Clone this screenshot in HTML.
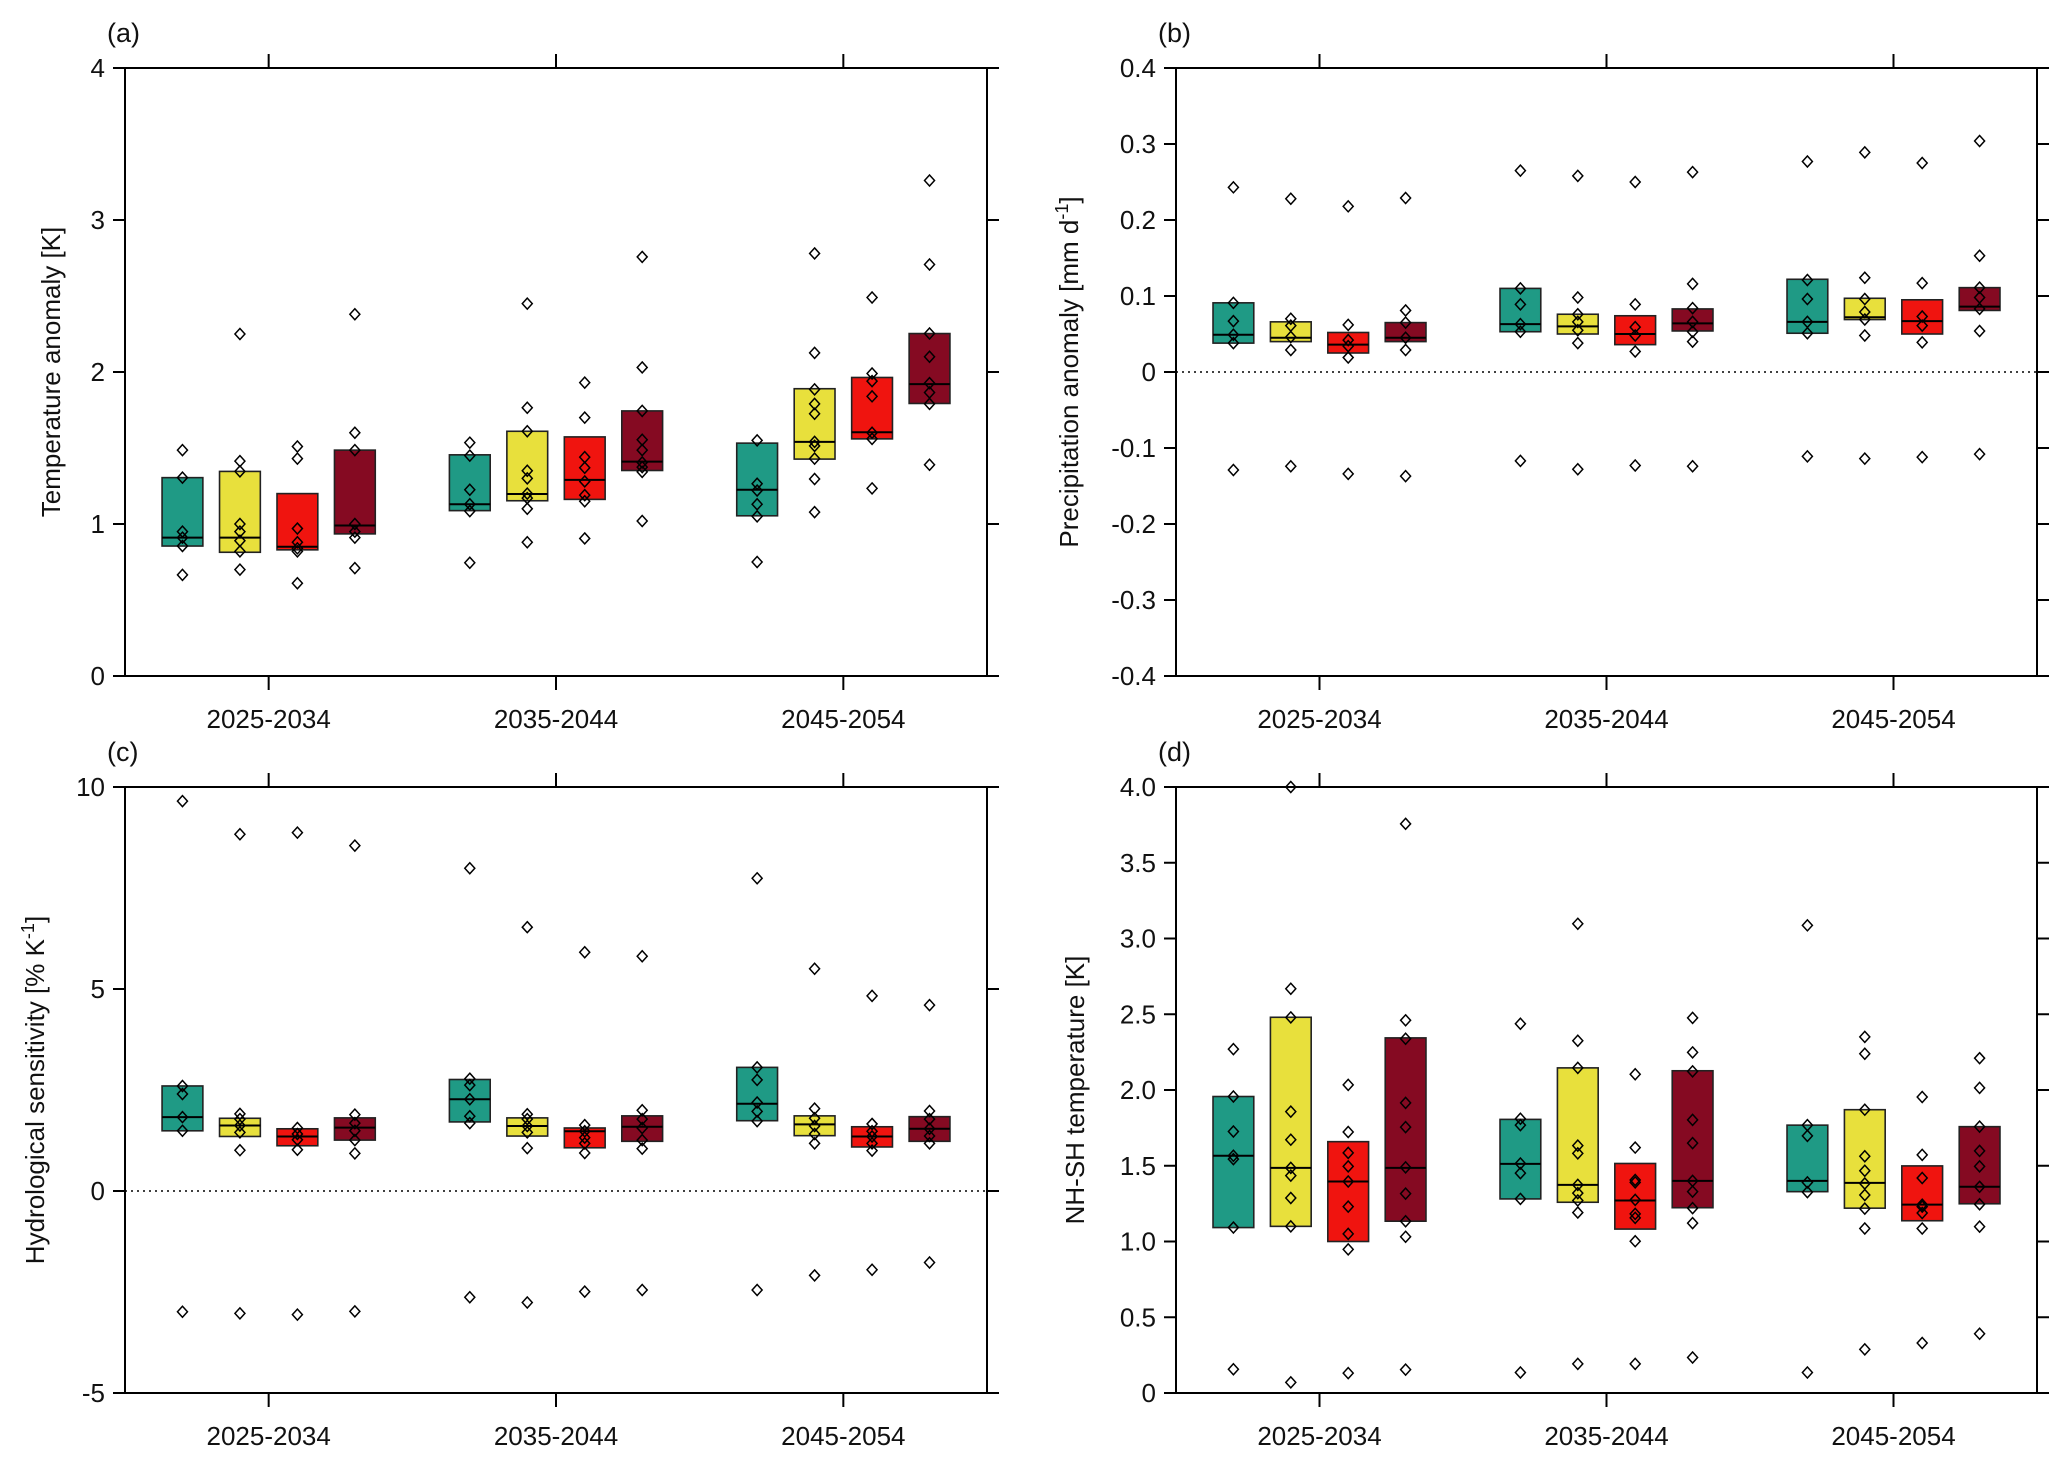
<!DOCTYPE html>
<html><head><meta charset="utf-8"><style>
html,body{margin:0;padding:0;background:#fff;}
svg{display:block;font-family:"Liberation Sans",Arial,sans-serif;}
</style></head><body>
<svg id="fig" width="2067" height="1462" viewBox="0 0 2067 1462" xmlns="http://www.w3.org/2000/svg"></svg>
<script>
const categories = ["2025-2034","2035-2044","2045-2054"];
const seriesColors = ["#1f9a85","#e8e03c","#f0140f","#850a22"];

// Panel (a) Temperature anomaly
const aLow  = [0.855,0.814,0.83,0.935, 1.088,1.153,1.162,1.352, 1.054,1.427,1.56,1.793];
const aHigh = [1.305,1.346,1.2,1.486, 1.455,1.61,1.573,1.744, 1.532,1.89,1.964,2.253];
const aMed  = [0.91,0.91,0.85,0.99, 1.13,1.197,1.29,1.41, 1.225,1.54,1.604,1.92];
const aPts  = [
 [1.486,1.305,0.95,0.91,0.855,0.665],
 [2.25,1.414,1.346,1.0,0.95,0.89,0.82,0.70],
 [1.51,1.43,0.97,0.88,0.84,0.82,0.61],
 [2.38,1.60,1.486,1.0,0.95,0.91,0.71],
 [1.535,1.45,1.225,1.13,1.085,0.745],
 [2.45,1.765,1.61,1.35,1.30,1.20,1.17,1.10,0.88],
 [1.93,1.70,1.44,1.37,1.28,1.19,1.15,0.905],
 [2.757,2.03,1.744,1.554,1.486,1.405,1.374,1.343,1.02],
 [1.55,1.265,1.22,1.13,1.05,0.75],
 [2.78,2.126,1.886,1.79,1.725,1.54,1.514,1.43,1.296,1.078],
 [2.49,1.99,1.94,1.84,1.60,1.56,1.234],
 [3.26,2.707,2.253,2.10,1.927,1.865,1.79,1.39]
];
const aTicks = [0,1,2,3,4];
const aTickLabels = ["0","1","2","3","4"];

// Panel (b) Precipitation anomaly
const bLow  = [0.038,0.040,0.025,0.040, 0.053,0.050,0.036,0.054, 0.051,0.069,0.050,0.081];
const bHigh = [0.091,0.066,0.052,0.065, 0.110,0.076,0.074,0.083, 0.122,0.097,0.095,0.111];
const bMed  = [0.049,0.045,0.036,0.045, 0.063,0.060,0.050,0.064, 0.066,0.072,0.067,0.086];
const bPts  = [
 [0.243,0.091,0.067,0.049,0.038,-0.129],
 [0.228,0.07,0.061,0.046,0.029,-0.124],
 [0.218,0.062,0.042,0.034,0.019,-0.134],
 [0.229,0.081,0.065,0.045,0.029,-0.137],
 [0.265,0.11,0.089,0.063,0.053,-0.117],
 [0.258,0.098,0.076,0.066,0.055,0.038,-0.128],
 [0.25,0.089,0.059,0.048,0.027,-0.123],
 [0.263,0.116,0.084,0.066,0.053,0.040,-0.124],
 [0.277,0.121,0.096,0.066,0.051,-0.111],
 [0.289,0.124,0.096,0.079,0.069,0.048,-0.114],
 [0.275,0.117,0.073,0.061,0.039,-0.112],
 [0.304,0.153,0.111,0.098,0.083,0.054,-0.108]
];
const bTicks = [-0.4,-0.3,-0.2,-0.1,0,0.1,0.2,0.3,0.4];
const bTickLabels = ["-0.4","-0.3","-0.2","-0.1","0","0.1","0.2","0.3","0.4"];

// Panel (c) Hydrological sensitivity
const cLow  = [1.49,1.35,1.12,1.26, 1.71,1.36,1.07,1.23, 1.74,1.37,1.09,1.23];
const cHigh = [2.6,1.80,1.54,1.81, 2.76,1.81,1.56,1.86, 3.06,1.86,1.59,1.84];
const cMed  = [1.83,1.62,1.35,1.57, 2.27,1.61,1.48,1.59, 2.16,1.65,1.35,1.54];
const cPts  = [
 [9.65,2.6,2.4,1.83,1.49,-2.99],
 [8.83,1.91,1.78,1.62,1.45,1.01,-3.03],
 [8.87,1.56,1.41,1.27,1.02,-3.06],
 [8.55,1.89,1.68,1.49,1.26,0.93,-2.98],
 [7.99,2.78,2.62,2.27,1.85,1.68,-2.63],
 [6.53,1.90,1.78,1.61,1.45,1.06,-2.76],
 [5.91,1.63,1.48,1.32,1.18,0.94,-2.49],
 [5.81,2.0,1.78,1.56,1.26,1.05,-2.45],
 [7.74,3.06,2.75,2.19,1.97,1.73,-2.45],
 [5.50,2.04,1.80,1.61,1.41,1.18,-2.09],
 [4.83,1.66,1.48,1.35,1.18,1.0,-1.95],
 [4.60,1.98,1.78,1.54,1.36,1.18,-1.77]
];
const cTicks = [-5,0,5,10];
const cTickLabels = ["-5","0","5","10"];

// Panel (d) NH-SH temperature
const dLow  = [1.092,1.10,1.0,1.134, 1.281,1.259,1.082,1.223, 1.329,1.22,1.137,1.249];
const dHigh = [1.957,2.48,1.659,2.344, 1.806,2.146,1.515,2.127, 1.768,1.87,1.499,1.758];
const dMed  = [1.566,1.486,1.396,1.486, 1.512,1.374,1.271,1.40, 1.40,1.387,1.243,1.361];
const dPts  = [
 [2.27,1.957,1.726,1.566,1.544,1.092,0.157],
 [4.0,2.668,2.479,1.857,1.672,1.486,1.435,1.287,1.10,0.07],
 [2.034,1.723,1.585,1.496,1.396,1.23,1.05,0.948,0.131],
 [3.757,2.46,2.338,1.915,1.755,1.489,1.316,1.134,1.031,0.154],
 [2.437,1.81,1.768,1.515,1.451,1.281,0.135],
 [3.097,2.325,2.146,1.633,1.582,1.374,1.319,1.271,1.191,0.192],
 [2.104,1.62,1.406,1.39,1.275,1.182,1.156,1.002,0.192],
 [2.476,2.248,2.123,1.803,1.649,1.40,1.329,1.22,1.121,0.234],
 [3.087,1.768,1.697,1.39,1.326,0.135],
 [2.351,2.239,1.87,1.563,1.467,1.383,1.307,1.217,1.086,0.288],
 [1.954,1.572,1.419,1.243,1.23,1.188,1.086,0.33],
 [2.21,2.014,1.758,1.598,1.496,1.361,1.246,1.098,0.391]
];
const dTicks = [0,0.5,1,1.5,2,2.5,3,3.5,4];
const dTickLabels = ["0","0.5","1.0","1.5","2.0","2.5","3.0","3.5","4.0"];

const NS = "http://www.w3.org/2000/svg";
const svg = document.getElementById("fig");
function mk(tag, attrs, parent){
  const e = document.createElementNS(NS, tag);
  for (const k in attrs) e.setAttribute(k, attrs[k]);
  (parent||svg).appendChild(e);
  return e;
}

function panel(opt){
  const g = mk("g", {});
  
  
  const L = opt.x, R = opt.x + opt.w, T = opt.y, B = opt.y + opt.h;
  const xs = v => L + v / 15 * opt.w;
  const ys = v => B - (v - opt.min) / (opt.max - opt.min) * opt.h;
  if (opt.zero) {
    const z = mk("line", {x1:L, x2:R, y1:ys(0), y2:ys(0), stroke:"#000","stroke-width":1.6,"stroke-dasharray":"2,4"}, g);
    
    
  }
  for (let i = 0; i < 12; i++) {
    const grp = Math.floor(i / 4), s = i % 4;
    const cx = xs(grp * 5 + 1 + s);
    const bw = 0.71 * opt.w / 15;
    const r = mk("rect", {x:cx - bw/2, y:ys(opt.high[i]), width:bw, height:ys(opt.low[i]) - ys(opt.high[i]), fill:seriesColors[s], stroke:"#222","stroke-width":1.6}, g);
    
    
    const m = mk("line", {x1:cx - bw/2, x2:cx + bw/2, y1:ys(opt.med[i]), y2:ys(opt.med[i]), stroke:"#000","stroke-width":2}, g);
    
    
    opt.pts[i].forEach(v => {
      const py = ys(v);
      const p = mk("polygon", {points:`${cx},${py-5.5} ${cx+5},${py} ${cx},${py+5.5} ${cx-5},${py}`, fill:"none", stroke:"#000","stroke-width":1.5}, g);
      
      
    });
  }
  const f = mk("rect", {x:L, y:T, width:opt.w, height:opt.h, fill:"none", stroke:"#000","stroke-width":2}, g);
  
  
  opt.ticks.forEach((v, k) => {
    const y = ys(v);
    mk("line", {x1:L-12, x2:L, y1:y, y2:y, stroke:"#000","stroke-width":2}, g);
    mk("line", {x1:R, x2:R+12, y1:y, y2:y, stroke:"#000","stroke-width":2}, g);
    const t = mk("text", {x:L-20, y:y+9, "text-anchor":"end","font-size":26, fill:"#111"}, g);
    t.textContent = opt.labels[k];
    
    
  });
  categories.forEach((c, k) => {
    const x = xs(k * 5 + 2.5);
    mk("line", {x1:x, x2:x, y1:T-14, y2:T, stroke:"#000","stroke-width":2}, g);
    mk("line", {x1:x, x2:x, y1:B, y2:B+14, stroke:"#000","stroke-width":2}, g);
    const t = mk("text", {x:x, y:B+52, "text-anchor":"middle","font-size":26, fill:"#111"}, g);
    t.textContent = c;
    
    
  });
  const pl = mk("text", {x:L-18, y:T-26, "font-size":27, fill:"#111"}, g);
  pl.textContent = opt.tag;
  
  
  const yt = mk("text", {x:0, y:0, "text-anchor":"middle","font-size":26, fill:"#111", transform:`translate(${opt.tx},${(T+B)/2}) rotate(-90)`}, g);
  yt.innerHTML = opt.title;
  
  
}

panel({name:"panel-a-temperature", tag:"(a)", x:125, y:68, w:862, h:608, min:0, max:4, low:aLow, high:aHigh, med:aMed, pts:aPts, ticks:aTicks, labels:aTickLabels, tx:60, title:"Temperature anomaly [K]"});
panel({name:"panel-b-precipitation", tag:"(b)", x:1176, y:68, w:861, h:608, min:-0.4, max:0.4, low:bLow, high:bHigh, med:bMed, pts:bPts, ticks:bTicks, labels:bTickLabels, tx:1078, zero:true, title:'Precipitation anomaly [mm d<tspan baseline-shift="super" font-size="18">-1</tspan>]'});
panel({name:"panel-c-hydrological-sensitivity", tag:"(c)", x:125, y:787, w:862, h:606, min:-5, max:10, low:cLow, high:cHigh, med:cMed, pts:cPts, ticks:cTicks, labels:cTickLabels, tx:44, zero:true, title:'Hydrological sensitivity [% K<tspan baseline-shift="super" font-size="18">-1</tspan>]'});
panel({name:"panel-d-nh-sh-temperature", tag:"(d)", x:1176, y:787, w:861, h:606, min:0, max:4, low:dLow, high:dHigh, med:dMed, pts:dPts, ticks:dTicks, labels:dTickLabels, tx:1084, title:"NH-SH temperature [K]"});
</script>
</body></html>
